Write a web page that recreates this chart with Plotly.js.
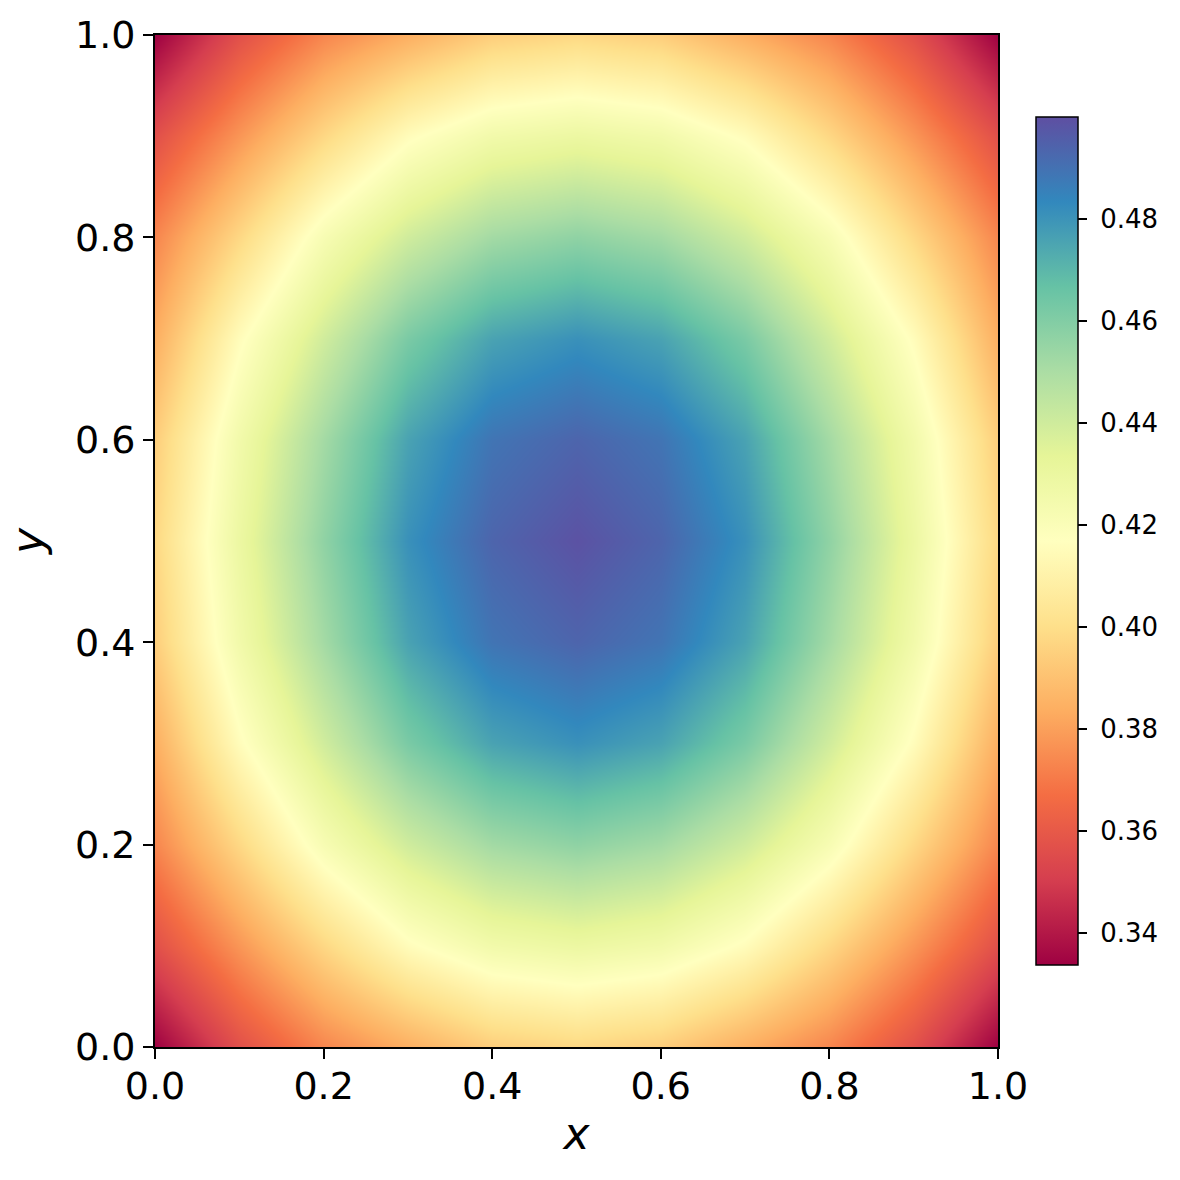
<!DOCTYPE html>
<html>
<head>
<meta charset="utf-8">
<script src="https://cdn.plot.ly/plotly-3.0.1.min.js"></script>
<style>html,body{margin:0;padding:0;background:#fff;}#chart{width:1180px;height:1180px;}</style>
</head>
<body>
<div id="chart"></div>
<script>
// Grid coordinates (cell centres)
const xValues = [0.0, 0.1, 0.2, 0.3, 0.4, 0.5, 0.6, 0.7, 0.8, 0.9, 1.0];
const yValues = [0.0, 0.1, 0.2, 0.3, 0.4, 0.5, 0.6, 0.7, 0.8, 0.9, 1.0];

// Field values, one row per y value (bottom to top)
const row00 = [0.3337,0.3566,0.3733,0.3839,0.3940,0.3974,0.3940,0.3839,0.3733,0.3566,0.3337];
const row01 = [0.3566,0.3773,0.3974,0.4152,0.4256,0.4291,0.4256,0.4152,0.3974,0.3773,0.3566];
const row02 = [0.3733,0.3974,0.4221,0.4398,0.4519,0.4567,0.4519,0.4398,0.4221,0.3974,0.3733];
const row03 = [0.3839,0.4152,0.4398,0.4619,0.4758,0.4809,0.4758,0.4619,0.4398,0.4152,0.3839];
const row04 = [0.3940,0.4256,0.4519,0.4758,0.4890,0.4936,0.4890,0.4758,0.4519,0.4256,0.3940];
const row05 = [0.3974,0.4291,0.4567,0.4809,0.4936,0.4990,0.4936,0.4809,0.4567,0.4291,0.3974];
const row06 = [0.3940,0.4256,0.4519,0.4758,0.4890,0.4936,0.4890,0.4758,0.4519,0.4256,0.3940];
const row07 = [0.3839,0.4152,0.4398,0.4619,0.4758,0.4809,0.4758,0.4619,0.4398,0.4152,0.3839];
const row08 = [0.3733,0.3974,0.4221,0.4398,0.4519,0.4567,0.4519,0.4398,0.4221,0.3974,0.3733];
const row09 = [0.3566,0.3773,0.3974,0.4152,0.4256,0.4291,0.4256,0.4152,0.3974,0.3773,0.3566];
const row10 = [0.3337,0.3566,0.3733,0.3839,0.3940,0.3974,0.3940,0.3839,0.3733,0.3566,0.3337];

const axisTicks = [0.0, 0.2, 0.4, 0.6, 0.8, 1.0];
const colorbarTicks = [0.34, 0.36, 0.38, 0.40, 0.42, 0.44, 0.46, 0.48];
const colorMin = 0.3337;
const colorMax = 0.4999;

const spectral = [
  [0.0, '#9e0142'], [0.1, '#d53e4f'], [0.2, '#f46d43'], [0.3, '#fdae61'],
  [0.4, '#fee08b'], [0.5, '#ffffbf'], [0.6, '#e6f598'], [0.7, '#abdda4'],
  [0.8, '#66c2a5'], [0.9, '#3288bd'], [1.0, '#5e4fa2']
];

const zGrid = [row00,row01,row02,row03,row04,row05,row06,row07,row08,row09,row10];

const font = 'DejaVu Sans, Liberation Sans, sans-serif';

const trace = {
  type: 'heatmap',
  x: xValues,
  y: yValues,
  z: zGrid,
  zsmooth: 'best',
  zmin: colorMin,
  zmax: colorMax,
  colorscale: spectral,
  hoverinfo: 'skip',
  colorbar: {
    x: 1.0451, xanchor: 'left', xpad: 0,
    y: 0.5, yanchor: 'middle', ypad: 0,
    len: 0.838, lenmode: 'fraction',
    thickness: 42, thicknessmode: 'pixels',
    outlinewidth: 1.5, outlinecolor: '#000',
    tickmode: 'array', tickvals: colorbarTicks,
    ticktext: colorbarTicks.map(v => '\u2009\u200a' + v.toFixed(2)),
    ticks: 'outside', ticklen: 9, tickwidth: 2, tickcolor: '#000',
    tickfont: {family: font, size: 26, color: '#000'}
  }
};

const axisCommon = {
  range: [0, 1],
  tickmode: 'array',
  tickvals: axisTicks,
  ticktext: axisTicks.map(v => v.toFixed(1)),
  ticks: 'outside', ticklen: 10, tickwidth: 2, tickcolor: '#000',
  showline: true, linecolor: '#000', linewidth: 2, mirror: true,
  showgrid: false, zeroline: false,
  tickfont: {family: font, size: 38, color: '#000'},
  automargin: false
};

const layout = {
  width: 1180, height: 1180,
  autosize: false,
  margin: {l: 155, r: 182, t: 35, b: 133, pad: 0},
  paper_bgcolor: '#fff',
  plot_bgcolor: '#fff',
  font: {family: font, color: '#000'},
  showlegend: false,
  xaxis: Object.assign({}, axisCommon, {
    ticklabelstandoff: -6,
    title: {text: '<i>x</i>', font: {family: font, size: 44, color: '#000'}, standoff: 12}
  }),
  yaxis: Object.assign({}, axisCommon, {
    title: {text: '<i>y</i>', font: {family: font, size: 44, color: '#000'}, standoff: 18}
  })
};

Plotly.newPlot('chart', [trace], layout, {displayModeBar: false, staticPlot: true});
</script>
</body>
</html>
